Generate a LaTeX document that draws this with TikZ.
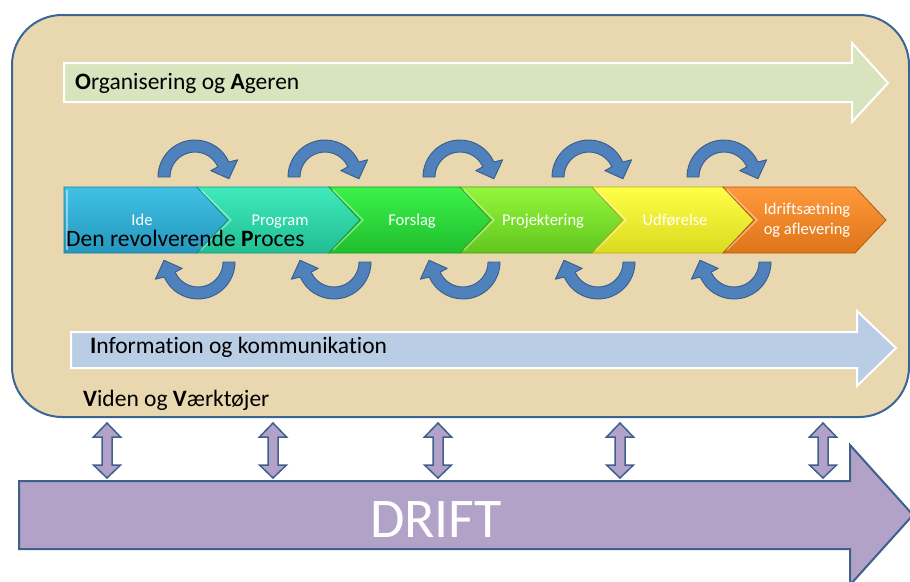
\documentclass[tikz,border=0pt]{standalone}
\usepackage{fontspec}
\setmainfont{Carlito}[Ligatures=NoCommon]
\definecolor{parch}{HTML}{E9D8AF}
\definecolor{boxline}{HTML}{3B6595}
\definecolor{greenar}{HTML}{D7E4BD}
\definecolor{bluear}{HTML}{B9CDE5}
\definecolor{purp}{HTML}{B3A2C7}
\definecolor{purpline}{HTML}{3F5F8F}
\definecolor{arcfill}{HTML}{4F81BD}
\definecolor{arcline}{HTML}{385D8A}
\definecolor{cAt}{HTML}{40C2E4}\definecolor{cAb}{HTML}{2596BE}\definecolor{cAl}{HTML}{1D7A9C}
\definecolor{cBt}{HTML}{40EABC}\definecolor{cBb}{HTML}{20BE92}\definecolor{cBl}{HTML}{16987A}
\definecolor{cCt}{HTML}{3CF24A}\definecolor{cCb}{HTML}{1FBE2E}\definecolor{cCl}{HTML}{169A22}
\definecolor{cDt}{HTML}{94F63C}\definecolor{cDb}{HTML}{62C61E}\definecolor{cDl}{HTML}{4C9E16}
\definecolor{cEt}{HTML}{FFFF48}\definecolor{cEb}{HTML}{DADA1E}\definecolor{cEl}{HTML}{B0B012}
\definecolor{cFt}{HTML}{FF9A3C}\definecolor{cFb}{HTML}{DE7418}\definecolor{cFl}{HTML}{B05A10}
\tikzset{
  bigtext/.style={font=\fontsize{23.5}{28}\selectfont, text=black, inner sep=0pt},
  chevtext/.style={font=\fontsize{16.5}{20}\selectfont, text=white, inner sep=0pt, align=center},
  bandarrow/.style={draw=white, line width=2pt},
  cyclearc/.style={fill=arcfill, draw=arcline, line width=0.9pt, line join=round},
  dblarrow/.style={fill=purp, draw=purpline, line width=1.5pt, line join=miter},
}
\newcommand{\toparc}[1]{%
  \begin{scope}[shift={(#1,177)}, yscale=-1]
    \path[cyclearc] (180:37) arc[start angle=180, end angle=24, radius=37]
      -- (22:46) -- (-3:34) -- (22:17) -- (24:25)
      arc[start angle=24, end angle=180, radius=25] -- cycle;
  \end{scope}}
\newcommand{\botarc}[1]{%
  \begin{scope}[shift={(#1,262)}, yscale=-1, rotate=180]
    \path[cyclearc] (180:37) arc[start angle=180, end angle=24, radius=37]
      -- (22:46) -- (-3:34) -- (22:17) -- (24:25)
      arc[start angle=24, end angle=180, radius=25] -- cycle;
  \end{scope}}
\newcommand{\vdbl}[1]{%
  \path[dblarrow] (#1,423) -- ++(13.5,14) -- ++(-8.5,0) -- ++(0,28) -- ++(8.5,0)
    -- (#1,478) -- ++(-13.5,-13) -- ++(8.5,0) -- ++(0,-28) -- ++(-8.5,0) -- cycle;}
\newcommand{\chev}[6]{% left, right, top colour, bottom colour, line colour, notch(0/1)
  \shade[top color=#3, bottom color=#4]
    (#1,187) -- (#2,187) -- ({#2+31},220) -- (#2,253) -- (#1,253)
    \ifnum#6=1 -- ({#1+31},220)\fi -- cycle;
  \draw[#5, line width=0.8pt, line join=miter]
    (#1,187) -- (#2,187) -- ({#2+31},220) -- (#2,253) -- (#1,253)
    \ifnum#6=1 -- ({#1+31},220)\fi -- cycle;
  \draw[white, opacity=0.45, line width=1.2pt]
    \ifnum#6=1 ({#1+4},190) -- ({#1+34},220) -- ({#1+4},250)\else ({#1+3},190) -- ({#1+3},250)\fi;
}
\begin{document}
\begin{tikzpicture}[x=1pt, y=-1pt]
\useasboundingbox (0,0) rectangle (910,581);
\fill[white] (0,0) rectangle (910,581);
% main rounded box
\draw[fill=parch, draw=boxline, line width=2pt, rounded corners=50pt] (12,15) rectangle (909,417);
% Organisering arrow
\path[fill=greenar, bandarrow] (64,63) -- (852,63) -- (852,43) -- (888,83) -- (852,122) -- (852,102) -- (64,102) -- cycle;
\node[bigtext, anchor=base west] (org) at (75,89) {\textbf{O}rganisering og \textbf{A}geren};
% Information arrow
\path[fill=bluear, bandarrow] (71,332) -- (857,332) -- (857,311) -- (896,348) -- (857,386) -- (857,368) -- (71,368) -- cycle;
\node[bigtext, anchor=base west] (info) at (90,353) {\textbf{I}nformation og kommunikation};
\node[bigtext, anchor=base west] (viden) at (83,406) {\textbf{V}iden og \textbf{V}ærktøjer};
% chevrons
\chev{64}{197}{cAt}{cAb}{cAl}{0}
\chev{197}{329}{cBt}{cBb}{cBl}{1}
\chev{329}{460}{cCt}{cCb}{cCl}{1}
\chev{460}{592}{cDt}{cDb}{cDl}{1}
\chev{592}{723}{cEt}{cEb}{cEl}{1}
\chev{723}{855}{cFt}{cFb}{cFl}{1}
\node[chevtext, anchor=base] (ide) at (142,225) {Ide};
\node[chevtext, anchor=base] (prog) at (280,225) {Program};
\node[chevtext, anchor=base] (fors) at (412,225) {Forslag};
\node[chevtext, anchor=base] (proj) at (543,225) {Projektering};
\node[chevtext, anchor=base] (udf) at (675,225) {Udførelse};
\node[chevtext] (idr) at (807,220) {Idriftsætning\\og aflevering};
\node[bigtext, anchor=base west] (proc) at (66,246) {Den revolverende \textbf{P}roces};
% cycle arcs
\toparc{195}\toparc{325}\toparc{460}\toparc{589}\toparc{724}
\botarc{198}\botarc{334}\botarc{463}\botarc{598}\botarc{734}
% DRIFT arrow
\path[fill=purp, draw=purpline, line width=2pt, line join=miter] (19,481) -- (850,481) -- (850,445) -- (913,515) -- (850,585) -- (850,549) -- (19,549) -- cycle;
\node[font=\fontsize{56}{60}\selectfont, text=white, inner sep=0pt, anchor=base] (drift) at (436,537) {DRIFT};
% double arrows
\vdbl{107}\vdbl{273}\vdbl{438}\vdbl{620}\vdbl{823}
\end{tikzpicture}
\end{document}
